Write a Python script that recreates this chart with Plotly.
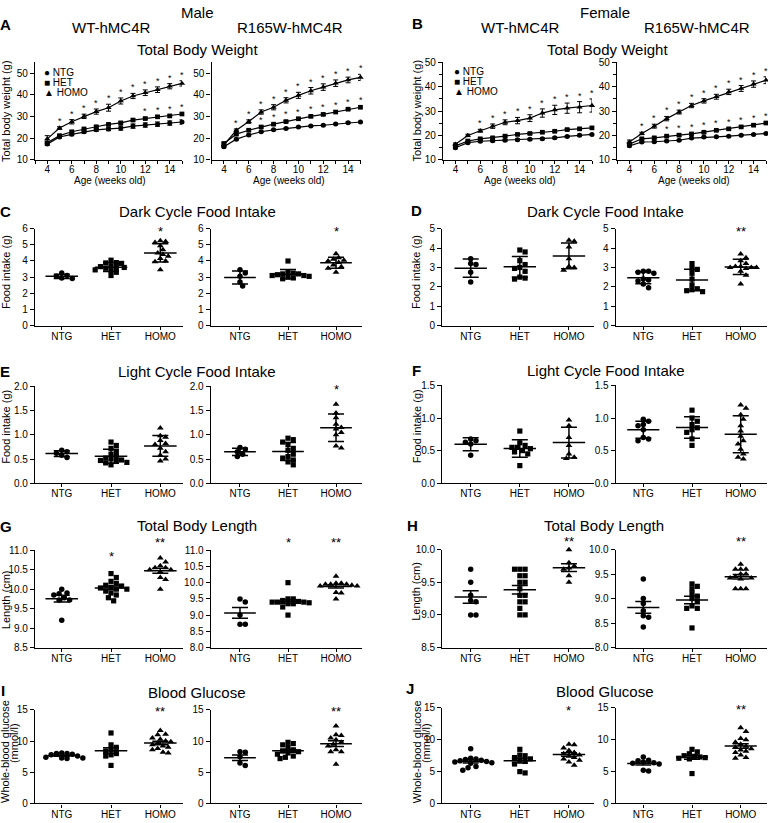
import numpy as np
import plotly.graph_objects as go

W, H = 768, 823
FONT = "Liberation Sans, Arial, Helvetica, sans-serif"

groups = ["NTG", "HET", "HOMO"]
weeks = [4, 5, 6, 7, 8, 9, 10, 11, 12, 13, 14, 15]

# ---------------- Total body weight (mean, error) ----------------
bw_male_wt = dict(
    NTG=[17.2, 20.5, 21.7, 22.9, 23.8, 24.2, 24.6, 25.5, 26.0, 26.4, 26.9, 27.4],
    HET=[17.8, 21.1, 22.9, 24.2, 25.2, 26.3, 27.0, 28.3, 29.0, 29.8, 30.2, 31.1],
    HOMO=[19.6, 24.6, 27.5, 30.0, 32.2, 34.0, 37.1, 39.4, 40.9, 42.3, 43.9, 45.2])
bw_male_wt_err = dict(
    NTG=[0.6, 0.5, 0.6, 0.6, 0.7, 0.8, 1.0, 1.0, 1.0, 1.0, 1.0, 1.0],
    HET=[0.5, 0.4, 0.4, 0.4, 0.5, 0.5, 0.5, 0.5, 0.5, 0.5, 0.5, 0.5],
    HOMO=[1.5, 0.6, 1.0, 1.0, 1.2, 1.6, 1.4, 1.2, 1.3, 1.3, 1.2, 1.2])
bw_male_wt_sig = dict(
    HET=[0, 0, 0, 0, 0, 0, 0, 0, 1, 1, 1, 1],
    HOMO=[0, 1, 1, 1, 1, 1, 1, 1, 1, 1, 1, 1])

bw_male_r165w = dict(
    NTG=[16.0, 19.5, 21.4, 22.9, 23.8, 24.4, 25.1, 25.6, 25.9, 26.5, 27.1, 27.4],
    HET=[17.5, 21.8, 23.6, 25.1, 26.4, 27.6, 28.9, 30.0, 30.9, 32.0, 33.3, 34.2],
    HOMO=[16.8, 23.6, 27.6, 32.0, 34.2, 37.4, 39.7, 41.8, 43.5, 45.3, 46.8, 48.0])
bw_male_r165w_err = dict(
    NTG=[0.5, 0.4, 0.4, 0.3, 0.3, 0.3, 0.3, 0.3, 0.3, 0.3, 0.3, 0.3],
    HET=[0.5, 0.5, 0.5, 0.5, 0.5, 0.5, 0.5, 0.5, 0.5, 0.5, 0.5, 0.5],
    HOMO=[0.8, 0.6, 0.8, 1.0, 1.2, 1.2, 1.4, 1.5, 1.5, 1.5, 1.3, 1.4])
bw_male_r165w_sig = dict(
    HET=[0, 0, 0, 1, 1, 1, 1, 1, 1, 1, 1, 1],
    HOMO=[0, 1, 1, 1, 1, 1, 1, 1, 1, 1, 1, 1])

bw_female_wt = dict(
    NTG=[14.9, 17.0, 17.6, 17.8, 18.0, 18.2, 18.4, 18.6, 19.0, 19.6, 20.1, 20.4],
    HET=[15.7, 17.7, 18.6, 19.0, 19.7, 20.4, 20.8, 21.3, 21.7, 22.4, 22.7, 23.1],
    HOMO=[16.4, 20.0, 21.9, 23.8, 25.4, 26.1, 27.1, 29.2, 30.5, 31.2, 31.6, 32.3])
bw_female_wt_err = dict(
    NTG=[0.4, 0.4, 0.4, 0.4, 0.4, 0.4, 0.4, 0.4, 0.4, 0.4, 0.4, 0.4],
    HET=[0.4, 0.4, 0.4, 0.4, 0.4, 0.4, 0.4, 0.4, 0.4, 0.4, 0.4, 0.4],
    HOMO=[0.5, 0.5, 0.6, 0.9, 1.0, 1.3, 1.4, 1.7, 1.9, 2.1, 2.3, 2.7])
bw_female_wt_sig = dict(
    HET=[0, 0, 0, 0, 0, 0, 0, 0, 0, 0, 0, 0],
    HOMO=[0, 0, 1, 1, 1, 1, 1, 1, 1, 1, 1, 1])

bw_female_r165w = dict(
    NTG=[15.7, 17.3, 17.4, 17.7, 18.0, 18.9, 19.3, 19.4, 19.7, 20.1, 20.4, 20.8],
    HET=[16.4, 18.6, 19.0, 19.7, 20.1, 20.6, 21.3, 22.1, 22.7, 23.5, 24.2, 25.1],
    HOMO=[17.3, 20.8, 23.8, 26.9, 29.6, 32.3, 34.2, 35.9, 37.9, 39.3, 41.1, 42.7])
bw_female_r165w_err = dict(
    NTG=[0.4, 0.3, 0.3, 0.3, 0.3, 0.3, 0.3, 0.3, 0.3, 0.3, 0.3, 0.3],
    HET=[0.5, 0.4, 0.4, 0.4, 0.4, 0.4, 0.4, 0.4, 0.4, 0.4, 0.4, 0.4],
    HOMO=[0.8, 0.5, 0.8, 0.9, 0.8, 0.9, 0.9, 1.0, 1.1, 1.2, 1.3, 1.4])
bw_female_r165w_sig = dict(
    HET=[0, 0, 0, 1, 1, 1, 1, 1, 1, 1, 1, 1],
    HOMO=[0, 1, 1, 1, 1, 1, 1, 1, 1, 1, 1, 1])

# ---------------- Individual animals ----------------
dark_male_wt = dict(
    NTG=[3.25, 3.1, 3.05, 2.95, 2.92],
    HET=[4.05, 3.9, 3.88, 3.85, 3.7, 3.65, 3.6, 3.6, 3.55, 3.45, 3.4, 3.3, 3.1],
    HOMO=[5.25, 5.2, 5.15, 4.95, 4.7, 4.5, 4.4, 4.3, 4.15, 4.0, 3.95, 3.45])
dark_male_r165w = dict(
    NTG=[3.45, 3.25, 3.05, 2.7, 2.45],
    HET=[4.0, 3.3, 3.25, 3.2, 3.2, 3.15, 3.1, 3.1, 3.05, 3.0, 2.95, 2.9],
    HOMO=[4.45, 4.2, 4.1, 4.05, 4.0, 3.9, 3.75, 3.65, 3.55, 3.3])
dark_female_wt = dict(
    NTG=[3.45, 3.2, 3.15, 2.75, 2.25],
    HET=[3.9, 3.8, 3.35, 3.15, 3.0, 2.95, 2.8, 2.5, 2.45, 2.4],
    HOMO=[4.4, 4.35, 4.05, 3.45, 3.05, 3.0, 2.85])
dark_female_r165w = dict(
    NTG=[2.8, 2.8, 2.75, 2.7, 2.4, 2.35, 2.3, 2.15, 1.95],
    HET=[3.2, 2.95, 2.9, 2.7, 2.4, 2.1, 1.9, 1.85, 1.8, 1.75],
    HOMO=[3.7, 3.5, 3.35, 3.2, 3.05, 3.05, 3.0, 3.0, 3.0, 2.95, 2.8, 2.6, 2.15])

light_male_wt = dict(
    NTG=[0.68, 0.65, 0.62, 0.58, 0.53],
    HET=[0.85, 0.78, 0.72, 0.65, 0.6, 0.55, 0.52, 0.5, 0.48, 0.47, 0.45, 0.43, 0.42, 0.38],
    HOMO=[1.14, 0.98, 0.95, 0.88, 0.82, 0.8, 0.72, 0.65, 0.58, 0.5, 0.46])
light_male_r165w = dict(
    NTG=[0.74, 0.7, 0.65, 0.6, 0.55],
    HET=[0.93, 0.9, 0.85, 0.8, 0.72, 0.68, 0.6, 0.55, 0.52, 0.48, 0.44, 0.38],
    HOMO=[1.63, 1.45, 1.35, 1.22, 1.15, 1.12, 1.05, 1.0, 0.77, 0.73])
light_female_wt = dict(
    NTG=[0.68, 0.65, 0.63, 0.6, 0.43],
    HET=[0.8, 0.62, 0.58, 0.55, 0.55, 0.53, 0.5, 0.48, 0.45, 0.27],
    HOMO=[0.97, 0.88, 0.7, 0.58, 0.45, 0.4, 0.38])
light_female_r165w = dict(
    NTG=[0.98, 0.95, 0.9, 0.88, 0.82, 0.7, 0.68, 0.65],
    HET=[1.12, 1.0, 0.95, 0.9, 0.85, 0.82, 0.78, 0.68, 0.58],
    HOMO=[1.2, 1.15, 1.05, 0.98, 0.88, 0.8, 0.72, 0.65, 0.6, 0.52, 0.45, 0.4, 0.37])

length_male_wt = dict(
    NTG=[10.0, 9.9, 9.88, 9.85, 9.78, 9.72, 9.72, 9.2],
    HET=[10.4, 10.3, 10.2, 10.15, 10.1, 10.08, 10.05, 10.03, 10.0, 10.0, 9.95, 9.9, 9.85, 9.78, 9.7],
    HOMO=[10.8, 10.7, 10.6, 10.55, 10.55, 10.5, 10.5, 10.45, 10.3, 10.25, 10.0])
length_male_r165w = dict(
    NTG=[9.5, 9.4, 9.0, 8.72, 8.72],
    HET=[10.0, 9.5, 9.5, 9.45, 9.42, 9.4, 9.4, 9.4, 9.38, 9.35, 9.35, 9.25, 9.0],
    HOMO=[10.2, 9.98, 9.98, 9.95, 9.95, 9.95, 9.92, 9.9, 9.9, 9.7, 9.68, 9.5])
length_female_wt = dict(
    NTG=[9.7, 9.5, 9.3, 9.22, 9.2, 9.0, 9.0],
    HET=[9.7, 9.7, 9.7, 9.6, 9.6, 9.5, 9.5, 9.4, 9.3, 9.3, 9.2, 9.2, 9.1, 9.0, 9.0],
    HOMO=[10.0, 9.8, 9.75, 9.72, 9.7, 9.6, 9.5])
length_female_r165w = dict(
    NTG=[9.4, 9.0, 8.9, 8.75, 8.65, 8.62, 8.42],
    HET=[9.3, 9.25, 9.2, 9.1, 9.05, 9.0, 8.95, 8.85, 8.8, 8.8, 8.4],
    HOMO=[9.7, 9.6, 9.6, 9.6, 9.5, 9.5, 9.45, 9.42, 9.42, 9.4, 9.2, 9.2, 9.2])

glucose_male_wt = dict(
    NTG=[8.1, 8.0, 8.0, 7.9, 7.8, 7.6, 7.4, 7.3, 7.3, 7.2],
    HET=[11.3, 9.4, 9.0, 8.6, 8.4, 8.0, 7.8, 7.6, 6.1],
    HOMO=[11.7, 11.1, 11.0, 10.5, 10.3, 10.0, 9.9, 9.6, 9.4, 9.2, 9.0, 8.8, 8.6, 8.2, 8.1])
glucose_male_r165w = dict(
    NTG=[8.3, 8.2, 7.5, 6.5, 6.1],
    HET=[9.8, 9.6, 9.4, 9.0, 8.6, 8.4, 8.3, 8.1, 7.9, 7.6, 7.4, 7.2],
    HOMO=[12.4, 11.0, 10.9, 10.5, 10.2, 9.8, 9.5, 9.2, 8.6, 8.3, 8.3, 6.3])
glucose_female_wt = dict(
    NTG=[8.6, 7.1, 7.0, 6.9, 6.8, 6.7, 6.6, 6.5, 6.4, 6.3, 5.8, 5.6, 5.2],
    HET=[8.5, 7.6, 7.5, 7.2, 7.0, 6.8, 6.6, 6.2, 5.0, 4.8],
    HOMO=[9.3, 9.2, 8.7, 8.3, 8.0, 7.8, 7.6, 7.4, 7.2, 7.0, 6.8, 6.5, 6.0])
glucose_female_r165w = dict(
    NTG=[7.3, 6.8, 6.7, 6.5, 6.4, 6.3, 6.2, 5.2, 5.1],
    HET=[8.5, 8.1, 7.8, 7.5, 7.4, 7.3, 7.2, 7.1, 7.0, 4.7],
    HOMO=[11.9, 11.3, 10.2, 10.0, 9.6, 9.3, 9.0, 8.8, 8.6, 8.4, 8.2, 8.0, 7.6, 7.2, 7.1])

# ---------------- styling / layout helpers ----------------
SYM = dict(NTG="circle", HET="square", HOMO="triangle-up")
MSIZE = dict(NTG=5.5, HET=5.2, HOMO=6.0)

fig = go.Figure()
lay = {}
annotations = []


def xd(a, b):
    return [a / W, b / W]


def yd(top, bot):
    return [1 - bot / H, 1 - top / H]


def ann(x, y, text, size=10, bold=False, xanchor="center", yanchor="middle", angle=0):
    annotations.append(dict(
        x=x / W, y=1 - y / H, xref="paper", yref="paper",
        text=("<b>%s</b>" % text) if bold else text, showarrow=False,
        font=dict(size=size, color="black", family=FONT),
        xanchor=xanchor, yanchor=yanchor, textangle=angle))


AX = dict(showline=True, linecolor="black", linewidth=1.3, ticks="outside", ticklen=4,
          tickwidth=1.2, tickcolor="black", showgrid=False, zeroline=False,
          tickfont=dict(size=10, color="black", family=FONT), fixedrange=True)


def axnames(n):
    s = "" if n == 1 else str(n)
    return "xaxis" + s, "yaxis" + s, "x" + s, "y" + s


# ---------------- Row A/B : body weight curves ----------------
bw_panels = [
    (1, (35, 182), (57, 156), [10, 55], False, bw_male_wt, bw_male_wt_err, bw_male_wt_sig),
    (2, (211.5, 360.5), (57, 156), [10, 55], False, bw_male_r165w, bw_male_r165w_err, bw_male_r165w_sig),
    (3, (443, 592), (57.3, 156), [10, 50], True, bw_female_wt, bw_female_wt_err, bw_female_wt_sig),
    (4, (617, 766), (57.3, 156), [10, 50], True, bw_female_r165w, bw_female_r165w_err, bw_female_r165w_sig),
]
for n, xp, ypx, yr, minor, m, e, sig in bw_panels:
    xa, ya, xr, yr_ = axnames(n)
    lay[xa] = dict(AX, domain=xd(*xp), range=[3, 15], anchor=yr_, tickmode="linear", tick0=4, dtick=2,
                   ticklen=3, ticklabelstandoff=-3,
                   minor=dict(tickmode="linear", tick0=3, dtick=1, ticks="outside", ticklen=3,
                              tickwidth=1.2, tickcolor="black"))
    yax = dict(AX, domain=yd(*ypx), range=yr, anchor=xr, tickmode="linear", tick0=10, dtick=10)
    if minor:
        yax["minor"] = dict(tickmode="linear", tick0=10, dtick=5, ticks="outside", ticklen=3,
                            tickwidth=1.2, tickcolor="black")
    lay[ya] = yax
    for g in groups:
        fig.add_trace(go.Scatter(
            x=weeks, y=m[g], mode="lines+markers", cliponaxis=False,
            error_y=dict(type="data", array=e[g], visible=True, width=2.5, thickness=1, color="black"),
            line=dict(color="black", width=1.2),
            marker=dict(symbol=SYM[g], size=MSIZE[g] - 0.5, color="black"),
            xaxis=xr, yaxis=yr_, showlegend=False, hoverinfo="skip"))
    for g in ["HET", "HOMO"]:
        for wk, mv, ev, s in zip(weeks, m[g], e[g], sig[g]):
            if s:
                annotations.append(dict(x=wk, y=mv + ev, xref=xr, yref=yr_, text="*", showarrow=False,
                                        font=dict(size=9, color="black", family=FONT),
                                        xanchor="center", yanchor="middle", yshift=6))

# ---------------- Dot-plot panels ----------------
COLX = [(35, 182.7), (210.7, 361.7), (442.3, 594), (615.7, 767)]
COLR = [[-0.542, 2.454], [-0.61, 2.535], [-0.578, 2.51], [-0.567, 2.54]]

dot_panels = [
    # (data, column, (top,bottom) px, y range, dtick, tickformat, error kind, stars)
    (dark_male_wt, 0, (226, 324.3), [0, 6], 1, "", "sd", [("HOMO", "*", -3)]),
    (dark_male_r165w, 1, (226, 324.3), [0, 6], 1, "", "sd", [("HOMO", "*", -3)]),
    (dark_female_wt, 2, (226, 324.3), [0, 5], 1, "", "sd", []),
    (dark_female_r165w, 3, (226, 324.3), [0, 5], 1, "", "sd", [("HOMO", "**", -3)]),
    (light_male_wt, 0, (386, 484.3), [0, 2], 0.5, ".1f", "sd", []),
    (light_male_r165w, 1, (386, 484.3), [0, 2], 0.5, ".1f", "sd", [("HOMO", "*", -3)]),
    (light_female_wt, 2, (385, 484.3), [0, 1.5], 0.5, ".1f", "sd", []),
    (light_female_r165w, 3, (385, 484.3), [0, 1.5], 0.5, ".1f", "sd", []),
    (length_male_wt, 0, (552.3, 651), [8.5, 11], 0.5, ".1f", "sem", [("HET", "*", -6), ("HOMO", "**", 8)]),
    (length_male_r165w, 1, (552.3, 651), [8, 11], 0.5, ".1f", "sem", [("HET", "*", 8), ("HOMO", "**", 8)]),
    (length_female_wt, 2, (551.7, 651), [8.5, 10], 0.5, ".1f", "sem", [("HOMO", "**", 8)]),
    (length_female_r165w, 3, (551.7, 651), [8, 10], 0.5, ".1f", "sem", [("HOMO", "**", 8)]),
    (glucose_male_wt, 0, (714.3, 809.3), [0, 15], 5, "", "sem", [("HOMO", "**", -2)]),
    (glucose_male_r165w, 1, (714.3, 809.3), [0, 15], 5, "", "sem", [("HOMO", "**", -2)]),
    (glucose_female_wt, 2, (712.3, 809.3), [0, 15], 5, "", "sem", [("HOMO", "*", -3)]),
    (glucose_female_r165w, 3, (712.3, 809.3), [0, 15], 5, "", "sem", [("HOMO", "**", -2)]),
]


def swarm(vals, ypu, xpc, d=4.8):
    vals = np.asarray(vals, float)
    order = np.argsort(-vals, kind="stable")
    placed = []
    offs = np.zeros(len(vals))
    for i in order:
        v = vals[i]
        cand = 0.0
        for k in range(60):
            cand = 0.0 if k == 0 else ((k + 1) // 2) * d * 0.55 * (1 if k % 2 else -1)
            if all((cand - px) ** 2 + ((v - pv) * ypu) ** 2 >= d * d for px, pv in placed):
                break
        placed.append((cand, v))
        offs[i] = cand / xpc
    return offs


for idx, (data, col, ypx, yrng, dt, fmt, ek, stars) in enumerate(dot_panels):
    n = 5 + idx
    xa, ya, xr, yr_ = axnames(n)
    x0, x1 = COLX[col]
    r0, r1 = COLR[col]
    lay[xa] = dict(AX, domain=xd(x0, x1), range=[r0, r1], anchor=yr_, tickmode="array",
                   tickvals=[0, 1, 2], ticktext=groups, ticklen=3, ticklabelstandoff=-2)
    lay[ya] = dict(AX, domain=yd(*ypx), range=yrng, anchor=xr, tickmode="linear",
                   tick0=yrng[0], dtick=dt, tickformat=fmt)
    ypu = (ypx[1] - ypx[0]) / (yrng[1] - yrng[0])
    xpc = (x1 - x0) / (r1 - r0)
    for gi, g in enumerate(groups):
        v = np.asarray(data[g], float)
        offs = swarm(v, ypu, xpc)
        fig.add_trace(go.Scatter(
            x=gi + offs, y=v, mode="markers", cliponaxis=False,
            marker=dict(symbol=SYM[g], size=MSIZE[g], color="black", line=dict(width=0)),
            xaxis=xr, yaxis=yr_, showlegend=False, hoverinfo="skip"))
        mean = v.mean()
        sd = v.std(ddof=1)
        err = sd if ek == "sd" else sd / np.sqrt(len(v))
        fig.add_trace(go.Scatter(
            x=[gi - 0.33, gi + 0.33], y=[mean, mean], mode="lines", cliponaxis=False,
            line=dict(color="black", width=1.5),
            xaxis=xr, yaxis=yr_, showlegend=False, hoverinfo="skip"))
        fig.add_trace(go.Scatter(
            x=[gi], y=[mean], mode="markers", marker=dict(size=1, opacity=0), cliponaxis=False,
            error_y=dict(type="data", array=[err], visible=True, width=8, thickness=1.5, color="black"),
            xaxis=xr, yaxis=yr_, showlegend=False, hoverinfo="skip"))
    for g, s, ysh in stars:
        annotations.append(dict(x=groups.index(g), y=1, xref=xr, yref=yr_ + " domain", text=s,
                                showarrow=False, font=dict(size=13, color="black", family=FONT),
                                xanchor="center", yanchor="middle", yshift=ysh))

# ---------------- Text ----------------
ann(197, 7, "Male", 15)
ann(111.7, 22, "WT-hMC4R", 15)
ann(290, 22, "R165W-hMC4R", 15)
ann(197.5, 44.5, "Total Body Weight", 15)
ann(605.3, 7, "Female", 15)
ann(520.7, 22, "WT-hMC4R", 15)
ann(696.5, 22, "R165W-hMC4R", 15)
ann(607.3, 44.5, "Total Body Weight", 15)

for letter, x, y in [("A", 5, 19), ("B", 417, 18), ("C", 5, 208.3), ("D", 416.5, 208),
                     ("E", 5, 371), ("F", 416, 369.5), ("G", 6, 528), ("H", 412, 527),
                     ("I", 3, 695), ("J", 410.3, 693)]:
    ann(x, y, letter, 15, bold=True)

for t, x, y in [("Dark Cycle Food Intake", 197.5, 208.7), ("Dark Cycle Food Intake", 605.7, 208.7),
                ("Light Cycle Food Intake", 196.7, 370.7), ("Light Cycle Food Intake", 605.7, 369.5),
                ("Total Body Length", 196.7, 527.5), ("Total Body Length", 603.8, 527.5),
                ("Blood Glucose", 196.7, 697), ("Blood Glucose", 604.8, 695.8)]:
    ann(x, y, t, 15)

for x in [110.3, 288.7, 519.8, 694]:
    ann(x, 177, "Age (weeks old)", 10)

ann(6, 106.5, "Total body weight (g)", 11, angle=-90)
ann(416.5, 106.5, "Total body weight (g)", 11, angle=-90)
ann(6, 270, "Food intake (g)", 11, angle=-90)
ann(416, 270, "Food intake (g)", 11, angle=-90)
ann(6, 427, "Food intake (g)", 11, angle=-90)
ann(416.5, 427, "Food intake (g)", 11, angle=-90)
ann(6, 603, "Length (cm)", 11, angle=-90)
ann(416.5, 594, "Length (cm)", 11, angle=-90)
ann(5, 757, "Whole-blood glucose", 11, angle=-90)
ann(14, 748, "(mmol/l)", 11, angle=-90)
ann(416.5, 756.7, "Whole-blood glucose", 11, angle=-90)
ann(426, 748, "(mmol/l)", 11, angle=-90)

# legends (row A)
for (lx, ly0) in [(42, 67), (452, 66.5)]:
    for i, (sym, g) in enumerate([("●", "NTG"), ("■", "HET"), ("▲", "HOMO")]):
        ann(lx, ly0 + i * 10.2, sym + " " + g, 10, xanchor="left")

fig.update_layout(
    width=W, height=H, margin=dict(l=0, r=0, t=0, b=0),
    paper_bgcolor="white", plot_bgcolor="white", showlegend=False,
    font=dict(family=FONT, color="black", size=10),
    annotations=annotations, **lay)

fig.write_html(
    "out.html",
    config={"displayModeBar": False},
    post_script="document.body.style.margin='0';document.body.style.padding='0';"
                "document.body.style.overflow='hidden';")
